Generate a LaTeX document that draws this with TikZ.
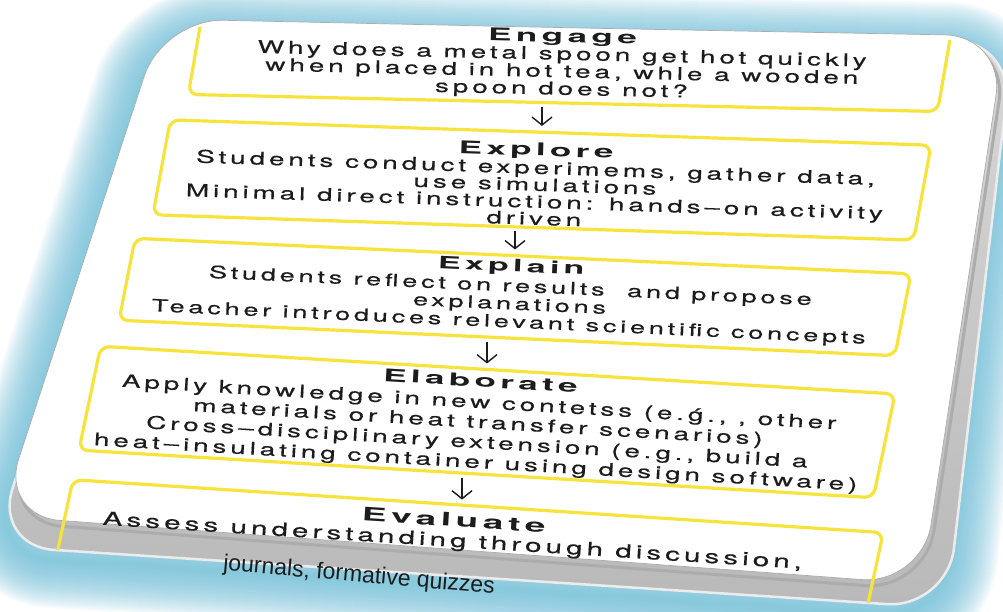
\documentclass[tikz,border=0pt]{standalone}
\usepackage{fontspec}
\usetikzlibrary{arrows.meta}
\setmainfont{TeX Gyre Heros}
\newfontfamily\stagefont{TeX Gyre Heros}[FakeStretch=1.6,LetterSpace=22,FakeBold=0.4]
\newfontfamily\headfont{TeX Gyre Heros}[FakeStretch=2.0,LetterSpace=25]
\newfontfamily\rimfont{Liberation Sans}

\definecolor{glowblue}{HTML}{6DBFDA}
\definecolor{boxyellow}{HTML}{F6E33C}
\definecolor{inkgray}{HTML}{1C1C1C}

\newcommand\faceoutline{(580,28) -- (1005,36) -- (922,584) -- (0,516) -- (163,19) -- cycle}
\newcommand\rimoutline{(580,33) -- (1013,41) -- (947,608) -- (-6,546) -- (163,22) -- cycle}

\tikzset{
  stagebox/.style={draw=boxyellow, line width=3.2pt, rounded corners=9pt, inner sep=0pt, xslant=0.15},
  stagetext/.style 2 args={align=center, text=inkgray, inner sep=0pt,
    font=\stagefont\fontsize{#1}{#2}\selectfont},
  flowarrow/.style={-{Straight Barb[length=8pt,width=20pt]}, line width=1.4pt, inkgray,
    shorten <=2pt, shorten >=5pt},
}

\begin{document}
\begin{tikzpicture}[x=1pt,y=-1pt]
\useasboundingbox (0,0) rectangle (1003,612);
\fill[white] (0,0) rectangle (1003,612);
\foreach \w in {4,8,...,96}
  \draw[glowblue, opacity=0.06, line width=\w pt, rounded corners=60pt, shift={(-4,10)}] \rimoutline;
\fill[top color=gray!30, bottom color=gray!55, rounded corners=60pt] \rimoutline;
\draw[gray!15, line width=2.5pt, rounded corners=60pt] \rimoutline;
\draw[gray!65, line width=3pt, rounded corners=60pt, shift={(3,6)}] \faceoutline;
\filldraw[fill=white, draw=gray!65, line width=0.7pt, rounded corners=60pt] \faceoutline;

\begin{scope}
\clip[rounded corners=60pt] \rimoutline;
\node[stagebox, rotate=-1.3, minimum width=752, minimum height=82] (engage) at (570,62) {};
\node[stagebox, rotate=-1.9, minimum width=765, minimum height=95] (explore) at (542,180) {};
\node[stagebox, rotate=-2.6, minimum width=782, minimum height=82] (explain) at (515,297) {};
\node[stagebox, rotate=-3.4, minimum width=803, minimum height=104] (elaborate) at (487,422) {};
\node[stagebox, rotate=-3.7, minimum width=820, minimum height=150] (evaluate) at (462,581) {};
\end{scope}

\draw[flowarrow] (engage.south -| explore.center) -- (explore.north -| explore.center);
\draw[flowarrow] (explore.south -| explain.center) -- (explain.north -| explain.center);
\draw[flowarrow] (explain.south -| elaborate.center) -- (elaborate.north -| elaborate.center);
\draw[flowarrow] (elaborate.south -| evaluate.center) -- (evaluate.north -| evaluate.center);

\node[stagetext={17.5}{17.5}, rotate=-1.3] (engage text) at (562,64)
  {{\headfont\bfseries Engage}\\Why does a metal spoon get hot quickly\\when placed in hot tea, whle a wooden\\spoon does not?};
\node[stagetext={17.5}{17}, rotate=-1.9] (explore text) at (535,184)
  {{\headfont\bfseries Explore}\\[1pt]Students conduct experimems, gather data,\\use simulations\\Minimal direct instruction: hands–on activity\\driven};
\node[stagetext={17}{18}, rotate=-2.6] (explain text) at (510,295)
  {{\headfont\bfseries Explain}\\[2pt]Students reflect on results\ \ and propose\\explanations\\Teacher introduces relevant scientific concepts};
\node[stagetext={17.5}{20}, rotate=-3.4] (elaborate text) at (478,423)
  {{\headfont\bfseries Elaborate}\\[1pt]Apply knowledge in new contetss (e.ǵ., , other\\materials or heat transfer scenarios)\\Cross–disciplinary extension (e.g., build a\\heat–insulating container using design software)};
\node[stagetext={18.5}{19}, rotate=-3.6] (evaluate text) at (453,532)
  {{\headfont\bfseries Evaluate}\\[1pt]Assess understanding through discussion,};
\node[text=inkgray, font=\rimfont\fontsize{23}{23}\selectfont, rotate=-5, inner sep=0pt] (journals) at (359,576)
  {journals, formative quizzes};
\end{tikzpicture}
\end{document}
